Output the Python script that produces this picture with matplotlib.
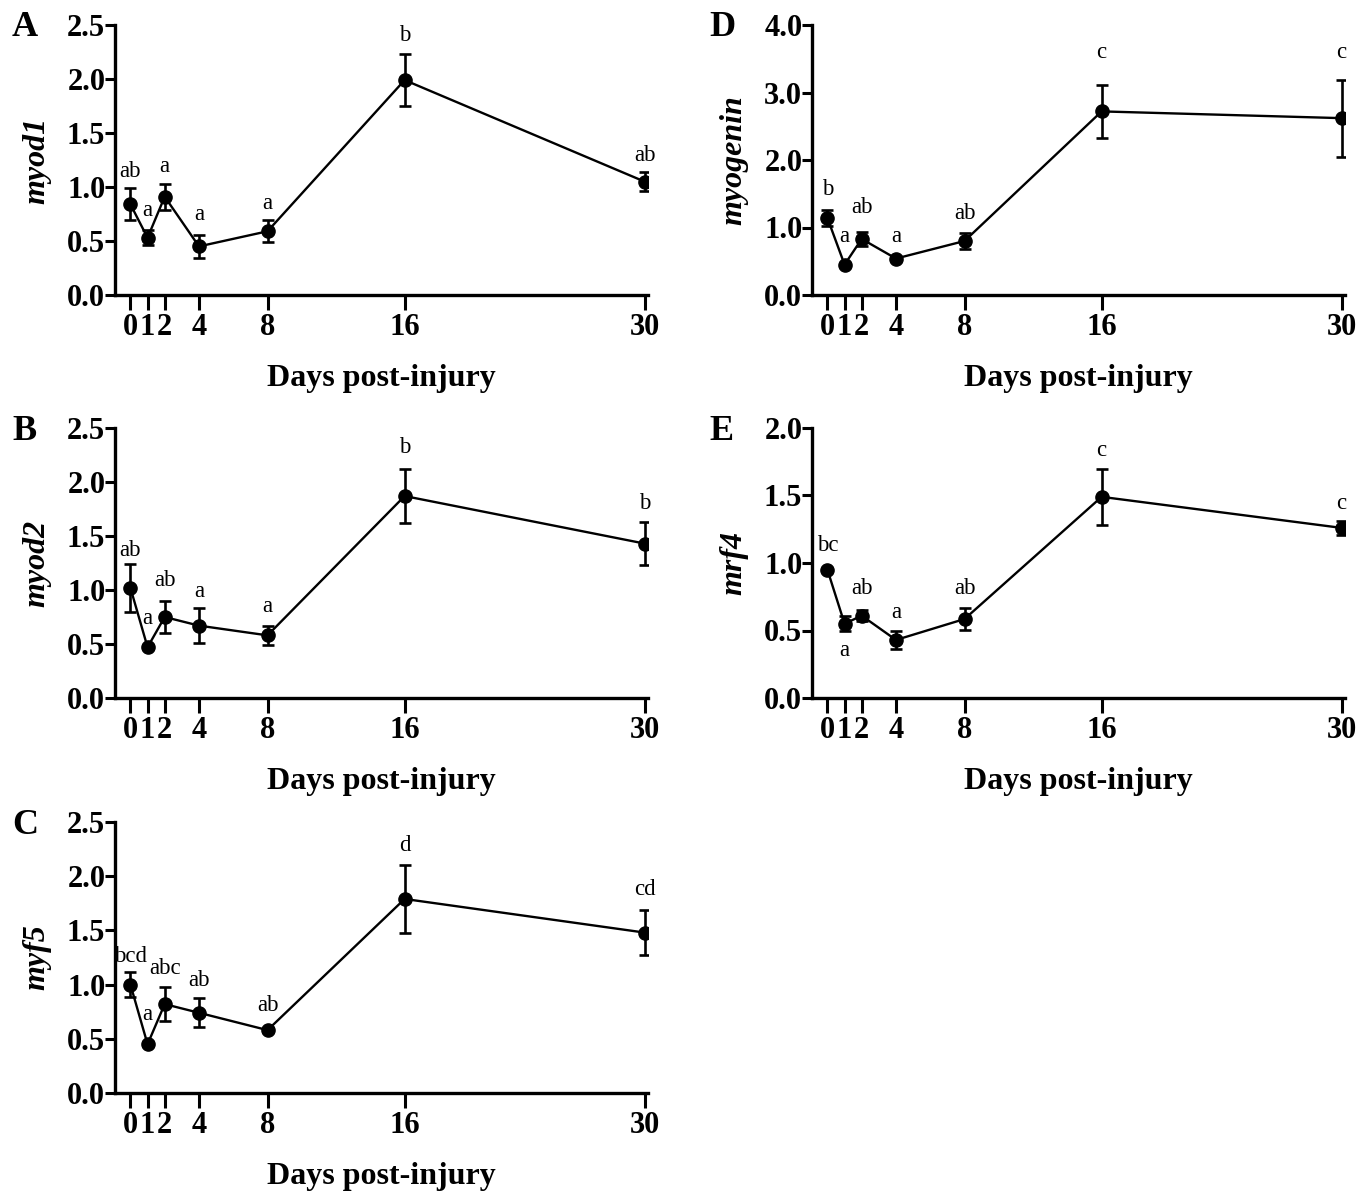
import matplotlib
matplotlib.use('Agg')
import matplotlib.pyplot as plt

plt.rcParams['font.family'] = ['Liberation Serif', 'DejaVu Serif']

days = [0, 1, 2, 4, 8, 16, 30]

# A: myod1
myod1_mean = [0.84, 0.53, 0.91, 0.45, 0.59, 1.99, 1.05]
myod1_err = [0.15, 0.07, 0.12, 0.11, 0.10, 0.24, 0.085]
myod1_letters = ['ab', 'a', 'a', 'a', 'a', 'b', 'ab']
myod1_letter_y = [1.14, 0.78, 1.19, 0.75, 0.85, 2.40, 1.29]

# B: myod2
myod2_mean = [1.02, 0.47, 0.75, 0.67, 0.58, 1.87, 1.43]
myod2_err = [0.22, 0.02, 0.15, 0.16, 0.085, 0.25, 0.20]
myod2_letters = ['ab', 'a', 'ab', 'a', 'a', 'b', 'b']
myod2_letter_y = [1.37, 0.74, 1.09, 0.99, 0.85, 2.32, 1.80]

# C: myf5
myf5_mean = [1.00, 0.45, 0.82, 0.74, 0.58, 1.79, 1.48]
myf5_err = [0.115, 0.02, 0.16, 0.135, 0.02, 0.31, 0.21]
myf5_letters = ['bcd', 'a', 'abc', 'ab', 'ab', 'd', 'cd']
myf5_letter_y = [1.26, 0.72, 1.15, 1.04, 0.81, 2.28, 1.88]

# D: myogenin
myogenin_mean = [1.14, 0.45, 0.83, 0.54, 0.80, 2.72, 2.62]
myogenin_err = [0.115, 0.03, 0.11, 0.03, 0.115, 0.395, 0.57]
myogenin_letters = ['b', 'a', 'ab', 'a', 'ab', 'c', 'c']
myogenin_letter_y = [1.56, 0.87, 1.29, 0.87, 1.21, 3.59, 3.59]

# E: mrf4
mrf4_mean = [0.95, 0.55, 0.61, 0.43, 0.585, 1.49, 1.26]
mrf4_err = [0.0, 0.055, 0.04, 0.065, 0.08, 0.205, 0.05]
mrf4_letters = ['bc', 'a', 'ab', 'a', 'ab', 'c', 'c']
mrf4_letter_y = [1.13, 0.35, 0.81, 0.63, 0.81, 1.83, 1.44]

panels = [
    ('A', 'myod1', myod1_mean, myod1_err, myod1_letters, myod1_letter_y, 2.5, 0.5),
    ('B', 'myod2', myod2_mean, myod2_err, myod2_letters, myod2_letter_y, 2.5, 0.5),
    ('C', 'myf5', myf5_mean, myf5_err, myf5_letters, myf5_letter_y, 2.5, 0.5),
    ('D', 'myogenin', myogenin_mean, myogenin_err, myogenin_letters, myogenin_letter_y, 4.0, 1.0),
    ('E', 'mrf4', mrf4_mean, mrf4_err, mrf4_letters, mrf4_letter_y, 2.0, 0.5),
]

W, H = 1369, 1195
fig = plt.figure(figsize=(W / 100, H / 100), dpi=100)

# axes boxes in pixels: left, top(ymax), right, bottom(y=0)
boxes = [
    (115, 25, 648, 295),
    (115, 428, 648, 698),
    (115, 822, 648, 1093),
    (812, 25, 1345, 295),
    (812, 428, 1345, 698),
]

for (letter, gene, mean, err, lets, lety, ymax, step), (l, t, r, b) in zip(panels, boxes):
    ax = fig.add_axes([l / W, 1 - b / H, (r - l) / W, (b - t) / H])
    ax.errorbar(days, mean, yerr=err, color='black', lw=1.7, marker='o', ms=9.5,
                capsize=4.5, capthick=1.9, elinewidth=1.9, zorder=3)
    for x, s, yy in zip(days, lets, lety):
        ax.text(x, yy, s, ha='center', va='center', fontsize=16.5)
    ax.set_xlim(-0.9, 30.2)
    ax.set_ylim(0, ymax)
    ax.set_xticks(days)
    ax.set_xticklabels([str(d) for d in days])
    n = int(round(ymax / step))
    yt = [i * step for i in range(n + 1)]
    ax.set_yticks(yt)
    ax.set_yticklabels(['%.1f' % v for v in yt])
    for sp in ['top', 'right']:
        ax.spines[sp].set_visible(False)
    for sp in ['left', 'bottom']:
        ax.spines[sp].set_linewidth(2.4)
    ax.tick_params(axis='x', length=11, width=2.2, direction='out', pad=2)
    ax.tick_params(axis='y', length=7, width=2.2, direction='out', pad=0)
    for lab in ax.get_xticklabels() + ax.get_yticklabels():
        lab.set_fontweight('bold')
        lab.set_fontsize(22)
    ax.set_xlabel('Days post-injury', fontsize=23, fontweight='bold', labelpad=16)
    ax.set_ylabel(gene, fontsize=23, fontweight='bold', style='italic', labelpad=11)
    fig.text((l - 103) / W, 1 - (t + 3) / H, letter, fontsize=26, fontweight='bold',
             ha='left', va='center')

fig.savefig('out.png', dpi=100)
